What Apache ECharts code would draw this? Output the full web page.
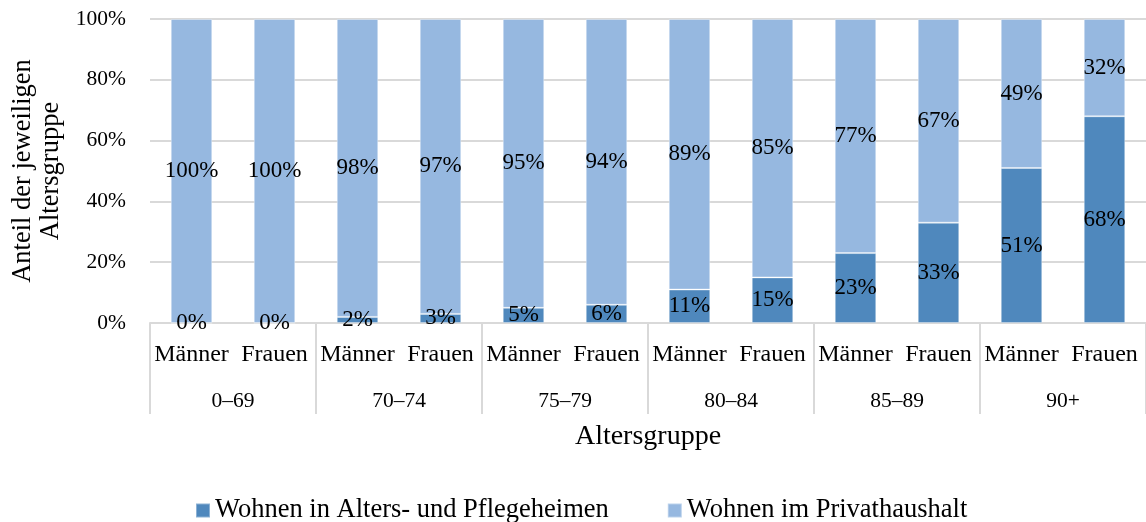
<!DOCTYPE html>
<html>
<head>
<meta charset="utf-8">
<script src="https://cdn.jsdelivr.net/npm/echarts@6/dist/echarts.min.js"></script>
<style>html,body{margin:0;padding:0;background:#fff}#c{width:1146px;height:522px}</style>
</head>
<body>
<div id="c"></div>
<script>
const sexLabels = ['Männer','Frauen','Männer','Frauen','Männer','Frauen','Männer','Frauen','Männer','Frauen','Männer','Frauen'];
const ageGroups = ['0–69','70–74','75–79','80–84','85–89','90+'];
const heim = [0,0,2,3,5,6,11,15,23,33,51,68];
const privat = [100,100,98,97,95,94,89,85,77,67,49,32];
const yTicks = [0,20,40,60,80,100];
const seriesNames = ['Wohnen in Alters- und Pflegeheimen','Wohnen im Privathaushalt'];

const FONT = 'Liberation Serif';
const chart = echarts.init(document.getElementById('c'));
const lbl = {show:true, position:'inside', color:'#000', fontFamily:FONT, fontSize:23, formatter:p=>p.value+'%'};
chart.setOption({
  animation:false,
  textStyle:{fontFamily:FONT},
  grid:{left:150, right:-4, top:19, bottom:199, containLabel:false},
  legend:{
    top:492, left:190, itemWidth:14, itemHeight:14, itemGap:58,
    icon:'rect',
    textStyle:{fontFamily:FONT, fontSize:26.5, color:'#000'},
    data:seriesNames
  },
  xAxis:[
    {type:'category', data:sexLabels, position:'bottom',
     axisLine:{lineStyle:{color:'#d9d9d9', width:2}},
     axisTick:{show:false},
     axisLabel:{color:'#000', fontFamily:FONT, fontSize:24, margin:20, interval:0}},
    {type:'category', data:ageGroups, position:'bottom',
     axisLine:{show:false},
     axisTick:{show:true, length:91, lineStyle:{color:'#d9d9d9', width:2}},
     axisLabel:{color:'#000', fontFamily:FONT, fontSize:21.5, margin:67, interval:0},
     name:'Altersgruppe', nameLocation:'middle', nameGap:100,
     nameTextStyle:{color:'#000', fontFamily:FONT, fontSize:28}}
  ],
  yAxis:{
    type:'value', min:0, max:100, interval:20,
    axisLabel:{color:'#000', fontFamily:FONT, fontSize:21.5, margin:24,
      formatter:v=>yTicks.includes(v)?v+'%':''},
    splitLine:{lineStyle:{color:'#d9d9d9', width:2}},
    axisLine:{show:false}, axisTick:{show:false},
    name:'Anteil der jeweiligen\nAltersgruppe', nameLocation:'middle', nameGap:77,
    nameTextStyle:{color:'#000', fontFamily:FONT, fontSize:26.5, lineHeight:28}
  },
  series:[
    {name:seriesNames[0], type:'bar', stack:'a', data:heim, xAxisIndex:0,
     barCategoryGap:'50%', itemStyle:{color:'#4f88bd', borderColor:'rgba(255,255,255,0.35)', borderWidth:1}, label:lbl},
    {name:seriesNames[1], type:'bar', stack:'a', data:privat, xAxisIndex:0,
     barCategoryGap:'50%', itemStyle:{color:'#96b8e0', borderColor:'rgba(255,255,255,0.35)', borderWidth:1}, label:lbl}
  ]
});
</script>
</body>
</html>
